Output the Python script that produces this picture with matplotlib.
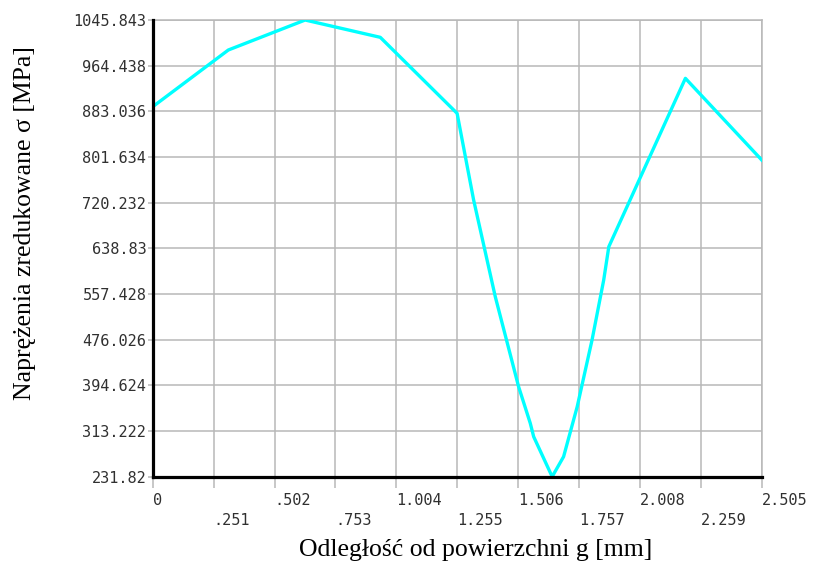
import matplotlib
matplotlib.use('Agg')
import matplotlib.pyplot as plt

# odleglosc od powierzchni [mm] i naprezenia zredukowane [MPa]
dist_mm = [0, 0.311, 0.627, 0.936, 1.252, 1.320, 1.409, 1.505, 1.553, 1.567,
           1.643, 1.690, 1.746, 1.807, 1.855, 1.876, 2.191, 2.505]
stress_mpa = [891.3, 992.4, 1045.843, 1015.0, 879.5, 725.0, 552.7, 392.2, 327.0, 303.1,
              231.82, 267.5, 356.6, 475.5, 582.4, 641.8, 941.9, 796.3]

x_ticks = [0, 0.2505, 0.501, 0.7515, 1.002, 1.2525, 1.503, 1.7535, 2.004, 2.2545, 2.505]
x_labels = ['0', '.251', '.502', '.753', '1.004', '1.255', '1.506', '1.757', '2.008', '2.259', '2.505']
y_ticks = [231.82, 313.2223, 394.6246, 476.0269, 557.4292, 638.8315,
           720.2338, 801.6361, 883.0384, 964.4407, 1045.843]
y_labels = ['231.82', '313.222', '394.624', '476.026', '557.428', '638.83',
            '720.232', '801.634', '883.036', '964.438', '1045.843']

grid_col = '#b8b8b8'
tick_font = {'family': 'DejaVu Sans Mono', 'size': 11}

fig = plt.figure(figsize=(8.14, 5.64), dpi=100)
fig.set_facecolor('white')
ax = fig.add_axes([0.1876, 0.1548, 0.7482, 0.8097])

ax.plot(dist_mm, stress_mpa, color='#00ffff', lw=2.4, zorder=3, solid_joinstyle='round')

ax.set_xlim(x_ticks[0], x_ticks[-1])
ax.set_ylim(y_ticks[0], y_ticks[-1])

# dwa rzedy etykiet na osi x: parzyste wyzej, nieparzyste nizej
ax.set_xticks(x_ticks[::2], labels=x_labels[::2], fontdict=tick_font)
ax.set_xticks(x_ticks[1::2], labels=x_labels[1::2], minor=True, fontdict=tick_font)
ax.set_yticks(y_ticks, labels=y_labels, fontdict=tick_font)
for lab in ax.get_xticklabels(which='both'):
    lab.set_horizontalalignment('left')

ax.tick_params(axis='x', which='both', direction='out', length=8, width=1.1,
               color=grid_col, labelcolor='#303030')
ax.tick_params(axis='x', which='major', pad=4)
ax.tick_params(axis='x', which='minor', pad=18)
ax.tick_params(axis='y', direction='out', length=3.6, width=1.1, pad=1,
               color=grid_col, labelcolor='#303030')

ax.grid(True, which='both', color=grid_col, lw=1.1, zorder=1)
ax.set_axisbelow(True)

for side in ['top', 'right']:
    ax.spines[side].set_color(grid_col)
    ax.spines[side].set_linewidth(1.1)
for side in ['left', 'bottom']:
    ax.spines[side].set_color('black')
    ax.spines[side].set_linewidth(2.3)
    ax.spines[side].set_zorder(4)

serif = ['Liberation Serif', 'DejaVu Serif']
fig.text(475.8 / 814, 1 - 550 / 564, 'Odległość od powierzchni g [mm]',
         family=serif, fontsize=18.5, ha='center', va='center')
fig.text(25 / 814, 1 - 223.5 / 564, 'Naprężenia zredukowane σ [MPa]',
         family=serif, fontsize=18.5, ha='center', va='center', rotation=90)

fig.savefig('out.png', dpi=100)
